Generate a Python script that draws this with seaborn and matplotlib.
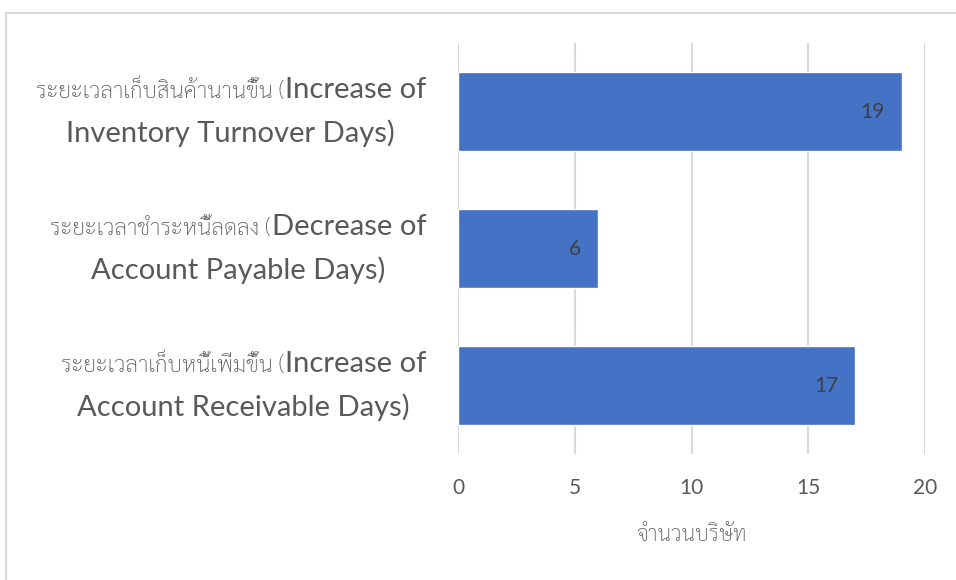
import matplotlib
matplotlib.use('Agg')
import matplotlib.pyplot as plt
import matplotlib.transforms as mtransforms
from matplotlib import font_manager
from matplotlib.patches import Rectangle
import pandas as pd
import seaborn as sns

# data
thai_parts = [
    'ระยะเวลาเก็บสินค้านานขึ้น (',
    'ระยะเวลาชำระหนี้ลดลง (',
    'ระยะเวลาเก็บหนี้เพิ่มขึ้น (',
]
eng_line1 = ['Increase of', 'Decrease of', 'Increase of']
eng_line2 = ['Inventory Turnover Days)', 'Account Payable Days)', 'Account Receivable Days)']
counts = [19, 6, 17]
x_ticks = [0, 5, 10, 15, 20]
x_label = 'จำนวนบริษัท'

BAR_COLOUR = '#4472C4'
TEXT_COLOUR = '#595959'
GRID_COLOUR = '#D9D9D9'


def pick_font(candidates):
    names = {f.name for f in font_manager.fontManager.ttflist}
    for c in candidates:
        if c in names:
            return c
    return 'DejaVu Sans'


LATIN = pick_font(['Lato', 'Open Sans', 'Noto Sans'])
THAI = pick_font(['Sarabun', 'Noto Sans Thai', 'IBM Plex Sans Thai Looped'])

sns.set_theme(style='white')
plt.rcParams['font.family'] = [LATIN, THAI, 'DejaVu Sans']

df = pd.DataFrame({
    'category': [t + a + ' ' + b for t, a, b in zip(thai_parts, eng_line1, eng_line2)],
    'count': counts,
})

fig = plt.figure(figsize=(9.56, 5.8), dpi=100)
ax = fig.add_axes([458 / 956, 1 - 454 / 580, (925 - 458) / 956, (454 - 43) / 580])

sns.barplot(data=df, x='count', y='category', orient='h', color=BAR_COLOUR,
            width=0.57, saturation=1, ax=ax, zorder=3)

ax.set_xlim(0, 20)
ax.set_xticks(x_ticks)
ax.xaxis.grid(True, color=GRID_COLOUR, linewidth=1.5, zorder=0)
ax.yaxis.grid(False)
for s in ax.spines.values():
    s.set_visible(False)
ax.tick_params(axis='x', length=0, pad=17, labelsize=15, labelcolor=TEXT_COLOUR)
ax.tick_params(axis='y', length=0)
ax.set_yticklabels([])
ax.set_ylabel('')
ax.set_xlabel(x_label, family=[THAI, LATIN], fontsize=15.5, fontweight='light',
              color=TEXT_COLOUR, labelpad=20)

# value labels inside bar ends
for i, v in enumerate(counts):
    ax.annotate(str(v), xy=(v, i), xytext=(-12, 0), textcoords='offset points',
                ha='right', va='center', fontsize=15, color='#404040', zorder=4)

# two-line category labels with mixed Thai/Latin sizes
fig.canvas.draw()
renderer = fig.canvas.get_renderer()
base = ax.get_yaxis_transform()
TH_SIZE = 16.3
EN_SIZE = 21


def place(txt, i, dx, dy, **kw):
    tr = mtransforms.offset_copy(base, fig=fig, x=dx, y=dy, units='dots')
    return ax.text(0, i, txt, transform=tr, clip_on=False, color=TEXT_COLOUR, **kw)


for i in range(len(counts)):
    th_kw = dict(family=[THAI, LATIN], fontsize=TH_SIZE, fontweight='light', va='baseline')
    en_kw = dict(family=[LATIN, THAI], fontsize=EN_SIZE, va='baseline')
    t_th = place(thai_parts[i], i, 0, 0, ha='left', **th_kw)
    t_l1 = place(eng_line1[i], i, 0, 0, ha='left', **en_kw)
    t_l2 = place(eng_line2[i], i, 0, 0, ha='center', **en_kw)
    w_th = t_th.get_window_extent(renderer).width
    w_l1 = t_l1.get_window_extent(renderer).width
    w_l2 = t_l2.get_window_extent(renderer).width
    t_th.remove(); t_l1.remove(); t_l2.remove()
    w1 = w_th + w_l1
    block = max(w1, w_l2)
    centre = -32 - block / 2
    start = centre - w1 / 2
    place(thai_parts[i], i, start, 14, ha='left', **th_kw)
    place(eng_line1[i], i, start + w_th, 14, ha='left', **en_kw)
    place(eng_line2[i], i, centre, -30, ha='center', **en_kw)

# chart frame
fig.patches.append(Rectangle((6 / 956, -0.2), 1.2, 1.2 - 13 / 580, transform=fig.transFigure,
                             fill=False, edgecolor=GRID_COLOUR, linewidth=1.5))

fig.savefig('out.png', dpi=100)
